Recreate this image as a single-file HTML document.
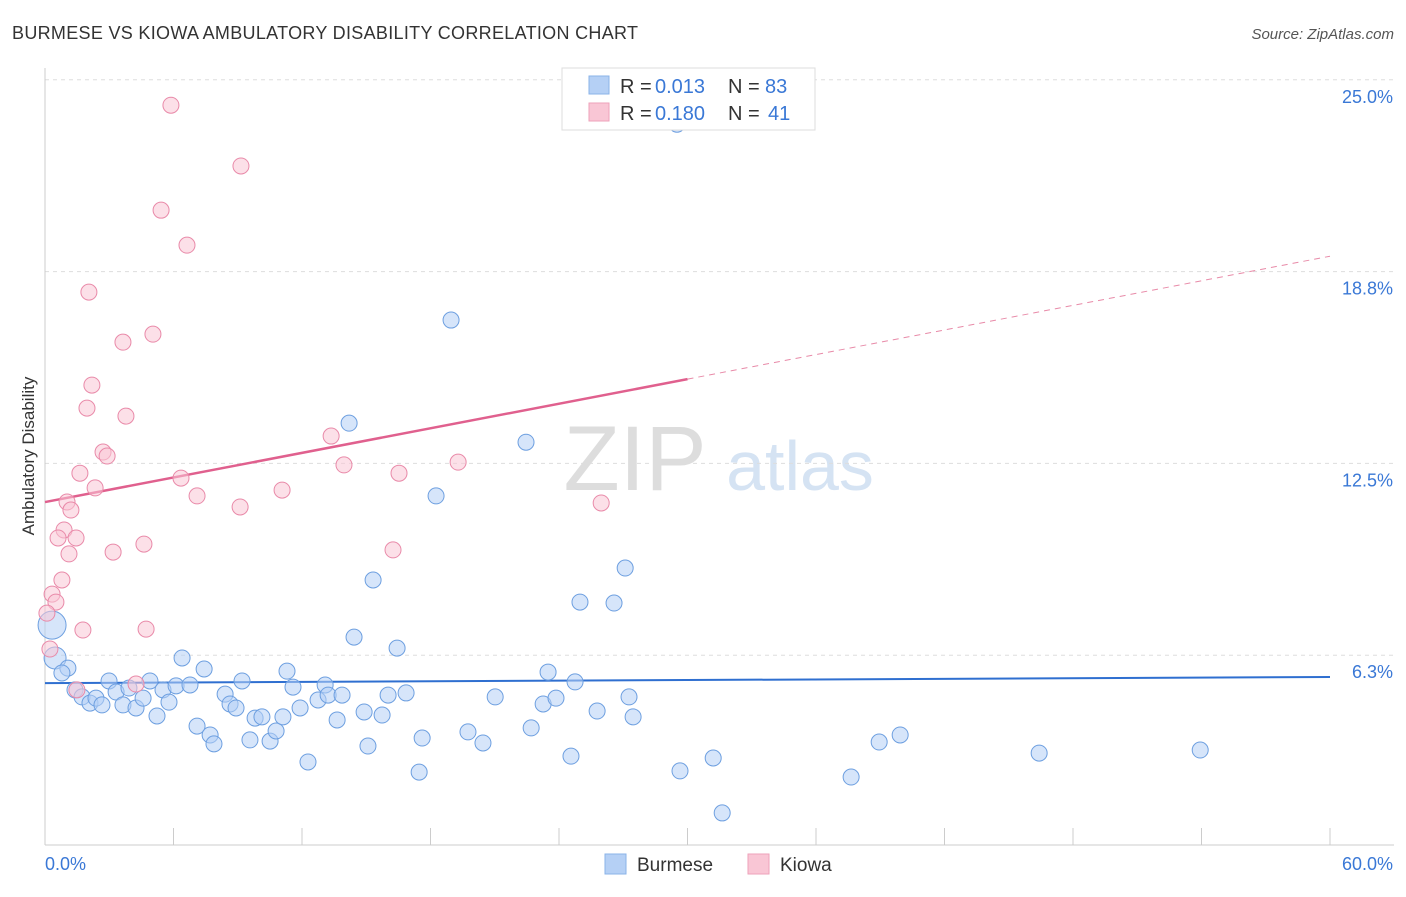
<!DOCTYPE html>
<html><head><meta charset="utf-8"><style>
body{margin:0;background:#fff;font-family:"Liberation Sans",sans-serif;}
svg text{font-family:"Liberation Sans",sans-serif;}
</style></head><body>
<svg id="chart" width="1406" height="892" viewBox="0 0 1406 892">
<text x="12" y="39" font-size="18" fill="#333" textLength="626">BURMESE VS KIOWA AMBULATORY DISABILITY CORRELATION CHART</text>
<text x="1394" y="39" font-size="15" fill="#555" font-style="italic" text-anchor="end">Source: ZipAtlas.com</text>
<text x="34" y="456" font-size="17" fill="#333" text-anchor="middle" transform="rotate(-90 34 456)">Ambulatory Disability</text>
<g><text x="635" y="490" font-size="92" fill="#ddd" font-family="Liberation Serif" text-anchor="middle">ZIP</text><text x="800" y="490" font-size="70" fill="#d5e3f3" text-anchor="middle">atlas</text></g>
<g id="grid"></g><g id="axes"></g><g id="trend"></g><g id="points"></g>
<g>
<rect x="562" y="68" width="253" height="62" fill="#fff" stroke="#ddd"/>
<rect x="589" y="76" width="20" height="18" fill="#b5d0f5" stroke="#8ab3e8"/>
<rect x="589" y="103" width="20" height="18" fill="#f9c6d5" stroke="#eea2ba"/>
<g font-size="20">
<text x="620" y="93" fill="#333">R =</text><text x="655" y="93" fill="#3a78d6">0.013</text>
<text x="728" y="93" fill="#333">N =</text><text x="765" y="93" fill="#3a78d6">83</text></g>
<g font-size="20">
<text x="620" y="120" fill="#333">R =</text><text x="655" y="120" fill="#3a78d6">0.180</text>
<text x="728" y="120" fill="#333">N =</text><text x="768" y="120" fill="#3a78d6">41</text></g>
</g>
<g>
<rect x="605" y="854" width="21" height="20" fill="#b5d0f5" stroke="#8ab3e8"/>
<text x="637" y="871" font-size="19" fill="#333">Burmese</text>
<rect x="748" y="854" width="21" height="20" fill="#f9c6d5" stroke="#eea2ba"/>
<text x="780" y="871" font-size="19" fill="#333">Kiowa</text>
</g>
</svg>
<script>
const yTicks=[6.25,12.5,18.75,25];
const yTickLabels=["6.3%","12.5%","18.8%","25.0%"];
const xLabels=["0.0%","60.0%"];
const burmeseX=[0.33,0.47,1.07,0.79,1.40,1.73,2.10,2.38,2.66,2.99,3.32,3.64,3.92,4.25,4.58,4.90,5.23,5.51,5.79,6.12,6.40,6.77,7.10,7.43,7.71,7.89,8.41,8.64,8.92,9.20,9.57,9.81,10.13,10.51,10.79,11.11,11.30,11.58,11.91,12.28,12.75,13.08,13.22,13.64,13.87,14.20,14.43,14.90,15.08,15.32,15.74,16.02,16.44,16.86,17.47,17.61,18.26,18.96,19.75,20.45,21.02,22.46,22.70,23.26,23.49,23.86,24.56,24.75,24.98,25.78,26.57,27.09,27.27,27.46,29.51,29.65,31.20,31.62,37.64,38.95,39.93,46.42,53.94];
const burmeseY=[7.23,6.16,5.83,5.67,5.12,4.89,4.69,4.85,4.63,5.41,5.05,4.63,5.18,4.53,4.85,5.41,4.27,5.12,4.72,5.25,6.16,5.28,3.94,5.80,3.65,3.36,4.98,4.66,4.53,5.41,3.49,4.20,4.24,3.45,3.78,4.24,5.73,5.21,4.53,2.77,4.79,5.28,4.95,4.14,4.95,13.81,6.84,4.40,3.29,8.70,4.30,4.95,6.48,5.02,2.44,3.55,11.44,17.17,3.75,3.39,4.89,13.19,3.88,4.66,5.70,4.85,2.96,5.38,7.98,4.43,7.95,9.09,4.89,4.24,23.55,2.48,2.90,1.11,2.28,3.42,3.65,3.06,3.16];
const kiowaX=[5.88,9.15,5.42,6.63,2.05,5.04,3.64,2.19,1.96,3.78,13.36,2.71,2.90,13.96,19.29,1.63,6.35,16.53,2.34,11.07,7.10,1.03,1.21,9.11,25.97,0.89,0.61,1.45,4.62,3.18,1.12,16.25,0.79,0.33,0.51,0.09,1.77,4.72,0.23,4.25,1.49];
const kiowaY=[24.17,22.19,20.75,19.61,18.08,16.71,16.45,15.05,14.30,14.04,13.39,12.87,12.74,12.45,12.54,12.18,12.02,12.18,11.70,11.63,11.44,11.24,10.98,11.08,11.21,10.33,10.07,10.07,9.87,9.61,9.55,9.68,8.70,8.24,7.98,7.62,7.07,7.10,6.45,5.31,5.12];
const burmeseTrend=[5.34,5.54];
const kiowaTrend=[11.24,19.25];
const NS="http://www.w3.org/2000/svg";
const sx=v=>45+v*(1285/60);
const sy=v=>847-v*30.69;
function mk(t,a,p){const e=document.createElementNS(NS,t);for(const k in a)e.setAttribute(k,a[k]);p.appendChild(e);return e;}
const grid=document.getElementById('grid'),axes=document.getElementById('axes'),trend=document.getElementById('trend'),pts=document.getElementById('points');
yTicks.forEach((t,i)=>{
 const l=mk('line',{x1:45,x2:1394,y1:sy(t),y2:sy(t),stroke:'#ddd','stroke-dasharray':'4,4'},grid);
 
 
 const tx=mk('text',{x:1393,y:sy(t)+23,'font-size':18,fill:'#3a78d6','text-anchor':'end'},axes);
 tx.textContent=yTickLabels[i];
 
 
});
mk('line',{x1:45,x2:45,y1:68,y2:845,stroke:'#ccc'},axes);
const xa=mk('line',{x1:45,x2:1394,y1:845,y2:845,stroke:'#ccc'},axes);


for(let v=0;v<=60;v+=6){const tk=mk('line',{x1:sx(v),x2:sx(v),y1:828,y2:845,stroke:'#ccc'},axes);
 
 }
const xl0=mk('text',{x:45,y:870,'font-size':18,fill:'#3a78d6'},axes);xl0.textContent=xLabels[0];


const xl1=mk('text',{x:1393,y:870,'font-size':18,fill:'#3a78d6','text-anchor':'end'},axes);xl1.textContent=xLabels[1];


function dot(x,y,r,fill,stroke,name){const c=mk('circle',{cx:sx(x),cy:sy(y),r:r,fill:fill,'fill-opacity':0.55,stroke:stroke,'stroke-width':1},pts);
 
 }
burmeseX.forEach((x,i)=>dot(x,burmeseY[i],i==0?14:(i==1?11:8),'#b5d0f5','#6d9fe0','burmese-point'));
kiowaX.forEach((x,i)=>dot(x,kiowaY[i],8,'#f9c6d5','#e98aa9','kiowa-point'));
const bt=mk('line',{x1:sx(0),y1:sy(burmeseTrend[0]),x2:sx(60),y2:sy(burmeseTrend[1]),stroke:'#2f6fd0','stroke-width':2},trend);


const km=kiowaTrend[0]+(kiowaTrend[1]-kiowaTrend[0])*0.5;
const kt=mk('line',{x1:sx(0),y1:sy(kiowaTrend[0]),x2:sx(30),y2:sy(km),stroke:'#e0608e','stroke-width':2.5},trend);


const kd=mk('line',{x1:sx(30),y1:sy(km),x2:sx(60),y2:sy(kiowaTrend[1]),stroke:'#e88aa8','stroke-width':1,'stroke-dasharray':'6,5'},trend);


</script>
</body></html>
